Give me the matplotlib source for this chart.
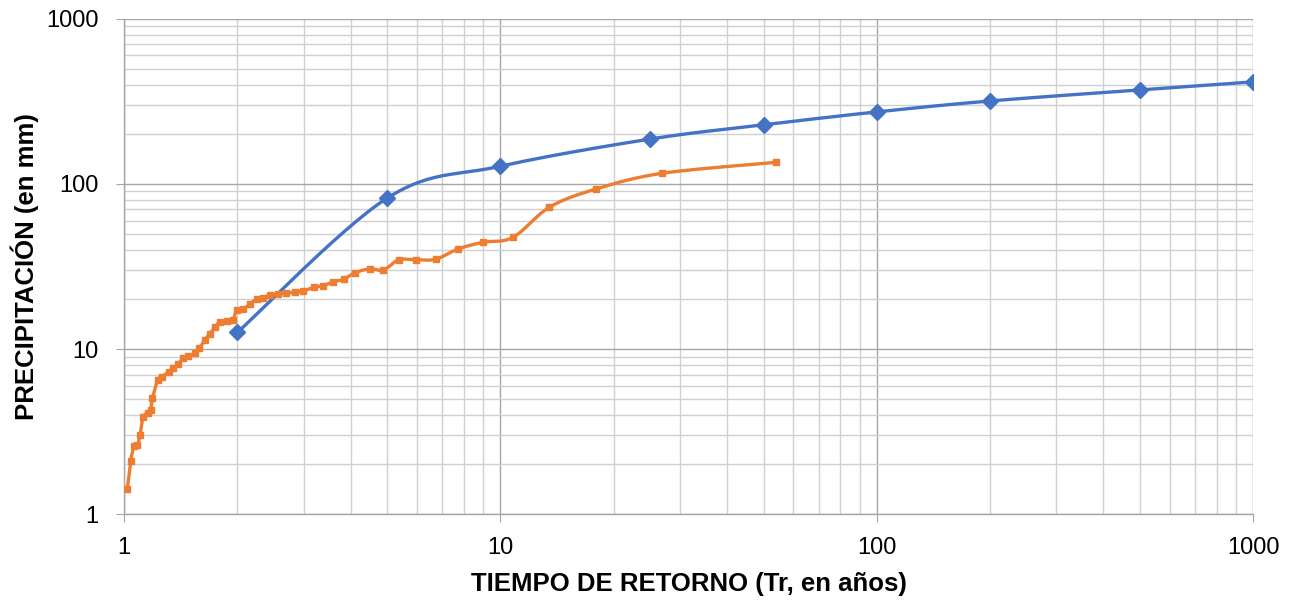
import numpy as np
import matplotlib
matplotlib.use("Agg")
import matplotlib.pyplot as plt
from matplotlib.ticker import LogLocator, FixedLocator, NullFormatter, FixedFormatter

plt.rcParams['font.family'] = ['Liberation Sans', 'DejaVu Sans']

# Blue series (theoretical)
tr_blue = [2, 5, 10, 25, 50, 100, 200, 500, 1000]
p_blue = [12.6, 82, 128, 187, 228, 273, 318, 371, 415]

# Orange series (observed)
tr_orange = [1.02, 1.042, 1.063, 1.085, 1.103, 1.125, 1.16, 1.177, 1.19, 1.229, 1.259,
             1.317, 1.352, 1.394, 1.437, 1.48, 1.544, 1.585, 1.64, 1.69, 1.745, 1.80,
             1.875, 1.945, 1.993, 2.074, 2.16, 2.25, 2.343, 2.443, 2.57, 2.70, 2.846,
             2.99, 3.19, 3.385, 3.6, 3.83, 4.11, 4.51, 4.89, 5.37, 5.98, 6.74, 7.7,
             8.98, 10.8, 13.5, 17.9, 26.9, 53.8]
p_orange = [1.41, 2.10, 2.58, 2.62, 3.01, 3.89, 4.08, 4.27, 5.02, 6.49, 6.79,
            7.29, 7.64, 8.17, 8.79, 9.06, 9.42, 10.1, 11.35, 12.4, 13.6, 14.6,
            14.8, 14.96, 17.2, 17.4, 18.8, 20.0, 20.5, 21.2, 21.6, 21.7, 22.2,
            22.5, 23.6, 24.2, 25.6, 26.4, 29.0, 30.6, 30.1, 34.7, 34.7, 35.0, 40.3,
            44.3, 47.5, 72.3, 93.0, 116, 135]

x_ticks = [1, 10, 100, 1000]
x_tick_labels = ['1', '10', '100', '1000']
y_ticks = [1, 10, 100, 1000]
y_tick_labels = ['1', '10', '100', '1000']


def smooth_log(xs, ys, n=30, t=1/6):
    lx = np.log10(np.asarray(xs, float))
    ly = np.log10(np.asarray(ys, float))
    pts = np.column_stack([lx, ly])
    out = [pts[0]]
    for i in range(len(pts) - 1):
        p0 = pts[i - 1] if i > 0 else pts[i]
        p1 = pts[i]
        p2 = pts[i + 1]
        p3 = pts[i + 2] if i + 2 < len(pts) else pts[i + 1]
        c1 = p1 + (p2 - p0) * t
        c2 = p2 - (p3 - p1) * t
        s = np.linspace(0, 1, n)[1:, None]
        seg = ((1 - s) ** 3) * p1 + 3 * ((1 - s) ** 2) * s * c1 + 3 * (1 - s) * s ** 2 * c2 + s ** 3 * p2
        out.extend(seg)
    out = np.array(out)
    return 10 ** out[:, 0], 10 ** out[:, 1]


fig = plt.figure(figsize=(12.92, 6.07), dpi=100)
ax = fig.add_axes([0.096, 0.153, 0.874, 0.816])
ax.set_xscale('log')
ax.set_yscale('log')
ax.set_xlim(1, 1000)
ax.set_ylim(1, 1000)

bx, by = smooth_log(tr_blue, p_blue)
ax.plot(bx, by, color='#4472C4', lw=2.4, zorder=3)
ax.plot(tr_blue, p_blue, ls='none', marker='D', ms=8, color='#4472C4', zorder=4)

ox, oy = smooth_log(tr_orange, p_orange)
ax.plot(ox, oy, color='#ED7D31', lw=2.4, zorder=3)
ax.plot(tr_orange, p_orange, ls='none', marker='s', ms=4.5, color='#ED7D31', zorder=4)

ax.xaxis.set_major_locator(FixedLocator(x_ticks))
ax.xaxis.set_major_formatter(FixedFormatter(x_tick_labels))
ax.yaxis.set_major_locator(FixedLocator(y_ticks))
ax.yaxis.set_major_formatter(FixedFormatter(y_tick_labels))
ax.xaxis.set_minor_locator(LogLocator(base=10, subs=np.arange(2, 10)))
ax.yaxis.set_minor_locator(LogLocator(base=10, subs=np.arange(2, 10)))
ax.xaxis.set_minor_formatter(NullFormatter())
ax.yaxis.set_minor_formatter(NullFormatter())

ax.grid(which='major', color='#a6a6a6', lw=1.0, zorder=0)
ax.grid(which='minor', color='#d0d0d0', lw=1.0, zorder=0)
ax.set_axisbelow(True)

for s in ['top', 'right']:
    ax.spines[s].set_visible(False)
for s in ['left', 'bottom']:
    ax.spines[s].set_color('#a6a6a6')
    ax.spines[s].set_linewidth(1.0)

ax.tick_params(axis='x', which='major', length=5.8, color='#a6a6a6', labelsize=17,
               labelcolor='#000000', pad=11)
ax.tick_params(axis='y', which='major', length=5.5, color='#a6a6a6', labelsize=17,
               labelcolor='#000000', pad=13)
ax.tick_params(which='minor', length=0)

ax.set_xlabel('TIEMPO DE RETORNO (Tr, en años)', fontsize=18.5, fontweight='bold', labelpad=9)
ax.set_ylabel('PRECIPITACIÓN (en mm)', fontsize=18.5, fontweight='bold', labelpad=5)

fig.savefig('out.png', dpi=100)
